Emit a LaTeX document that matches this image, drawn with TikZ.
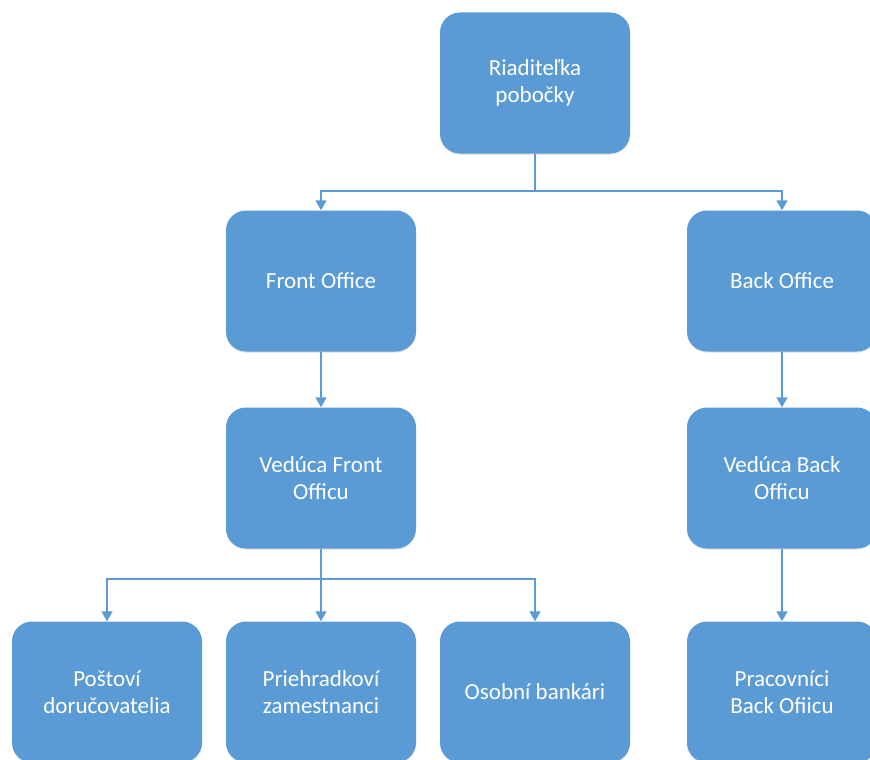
\documentclass[tikz,border=0pt]{standalone}
\usepackage{fontspec}
\setmainfont{Carlito}
\usetikzlibrary{arrows.meta,shadows}
\definecolor{boxblue}{HTML}{5B9BD5}
\begin{document}
\begin{tikzpicture}[x=1pt,y=-1pt,
  orgbox/.style={rectangle, rounded corners=20pt, fill=boxblue, draw=none,
    minimum width=190pt, minimum height=141pt, text=white, align=center,
    font=\fontsize{23}{27}\selectfont,
    drop shadow={opacity=0.25, shadow xshift=0pt, shadow yshift=-1pt}},
  conn/.style={draw=boxblue, line width=1.6pt},
  arr/.style={conn, -{Triangle[width=11pt,length=10pt]}}]
\useasboundingbox (0,0) rectangle (870,760);
\clip (0,0) rectangle (870,760);
\fill[white] (0,0) rectangle (870,760);
\node[orgbox] (root) at (535,83) {Riaditeľka\\pobočky};
\node[orgbox] (fo) at (321,281) {Front Office};
\node[orgbox] (bo) at (782,281) {Back Office};
\node[orgbox] (vfo) at (321,478) {Vedúca Front\\Officu};
\node[orgbox] (vbo) at (782,478) {Vedúca Back\\Officu};
\node[orgbox] (pd) at (107,692) {Poštoví\\doručovatelia};
\node[orgbox] (pz) at (321,692) {Priehradkoví\\zamestnanci};
\node[orgbox] (ob) at (535,692) {Osobní bankári};
\node[orgbox] (pb) at (782,692) {Pracovníci\\Back Ofiicu};
\coordinate (j1) at (535,191);
\coordinate (j2) at (321,579);
\draw[conn] (root.south) -- (j1);
\draw[arr] (j1) -| (fo.north);
\draw[arr] (j1) -| (bo.north);
\draw[arr] (fo.south) -- (vfo.north);
\draw[arr] (bo.south) -- (vbo.north);
\draw[conn] (vfo.south) -- (j2);
\draw[arr] (j2) -| (pd.north);
\draw[arr] (j2) -- (pz.north);
\draw[arr] (j2) -| (ob.north);
\draw[arr] (vbo.south) -- (pb.north);
\end{tikzpicture}
\end{document}
